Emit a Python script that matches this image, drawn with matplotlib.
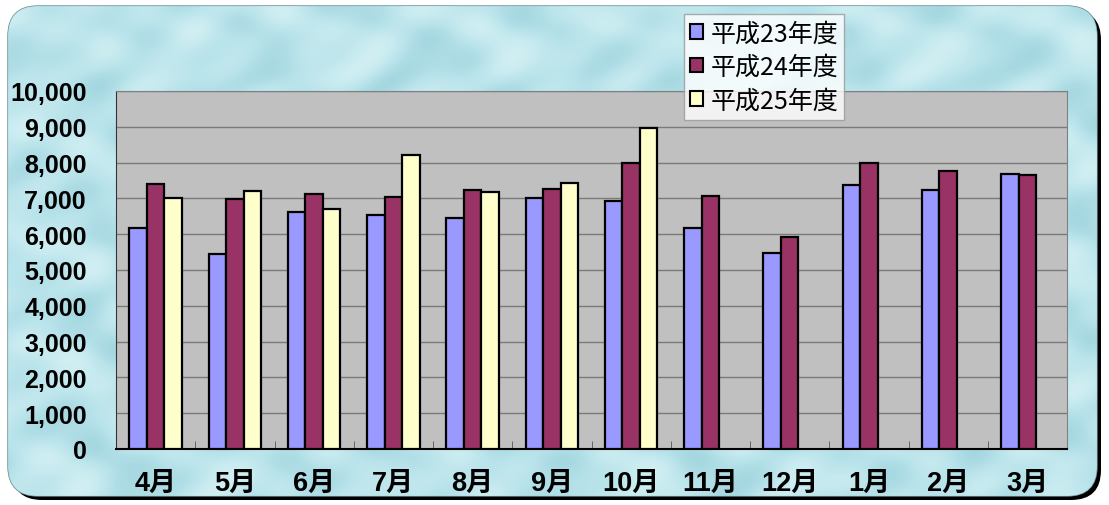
import numpy as np
import matplotlib
matplotlib.use('Agg')
import matplotlib.pyplot as plt
from matplotlib.patches import FancyBboxPatch, Patch
from matplotlib.colors import LinearSegmentedColormap
from matplotlib.ticker import FuncFormatter, MultipleLocator, FixedLocator

plt.rcParams['font.family'] = ['Noto Sans CJK JP', 'DejaVu Sans']

# data
months = ['4月', '5月', '6月', '7月', '8月', '9月', '10月', '11月', '12月', '1月', '2月', '3月']
h23 = [6180, 5440, 6610, 6540, 6450, 7000, 6920, 6180, 5480, 7370, 7240, 7690]
h24 = [7400, 6980, 7120, 7050, 7230, 7250, 7990, 7070, 5920, 7980, 7760, 7650]
h25 = [7000, 7200, 6700, 8200, 7190, 7420, 8980, np.nan, np.nan, np.nan, np.nan, np.nan]
series_names = ['平成23年度', '平成24年度', '平成25年度']
colors = ['#9999ff', '#993366', '#ffffcc']

W, H = 1109, 506
fig = plt.figure(figsize=(W / 100, H / 100), dpi=100)
fig.patch.set_facecolor('white')

# rounded watery background
bg = fig.add_axes([0, 0, 1, 1], zorder=-10)
bg.set_xlim(0, W)
bg.set_ylim(H, 0)
bg.axis('off')
shadow = FancyBboxPatch((12, 11), W - 20, H - 16, boxstyle='round,pad=0,rounding_size=30',
                        fc='black', ec='none')
bg.add_patch(shadow)
box = FancyBboxPatch((8, 7), W - 20, H - 16, boxstyle='round,pad=0,rounding_size=30',
                     fc='#b8e4eb', ec='#6a8a90', lw=1)
bg.add_patch(box)
yy, xx = np.mgrid[0:H, 0:W]
tex = (np.sin(xx / 23.0 + np.cos(yy / 17.0) * 2) + np.sin(yy / 19.0 + np.sin(xx / 31.0) * 2)
       + 0.5 * np.sin((xx + yy) / 11.0))
cmap = LinearSegmentedColormap.from_list('water', ['#a3d6e0', '#bce5ec', '#d4f1f4'])
im = bg.imshow(tex, extent=(0, W, H, 0), cmap=cmap, alpha=0.9, zorder=1, aspect='auto')
im.set_clip_path(box)

ax = fig.add_axes([116 / W, 1 - 450 / H, (1067 - 116) / W, (450 - 92) / H])
ax.set_facecolor('#c0c0c0')
x = np.arange(len(months))
bw = 0.22
for i, (vals, c, name) in enumerate(zip([h23, h24, h25], colors, series_names)):
    ax.bar(x + (i - 1) * bw, vals, bw, color=c, edgecolor='black', linewidth=1.6,
           label=name, zorder=3)

ax.set_xlim(-0.5, len(months) - 0.5)
ax.set_ylim(0, 10000)
ax.yaxis.set_major_locator(MultipleLocator(1000))
ax.yaxis.set_major_formatter(FuncFormatter(lambda v, p: f'{int(v):,}'))
ax.grid(axis='y', color='#7a7a7a', lw=1, zorder=0)
ax.set_axisbelow(True)
ax.set_xticks(x)
ax.set_xticklabels(months)
for lab in ax.get_xticklabels():
    lab.set_fontfamily(['Liberation Sans', 'Noto Sans CJK JP'])
    lab.set_fontweight('bold')
    lab.set_fontsize(19.5)
ax.xaxis.set_minor_locator(FixedLocator(np.arange(0.5, len(months) - 0.5, 1)))
ax.tick_params(axis='x', which='major', length=0, pad=15)
ax.tick_params(axis='x', which='minor', direction='in', length=6, color='#555555')
ax.tick_params(axis='y', length=0, pad=21)
for lab in ax.get_yticklabels():
    lab.set_fontfamily('Liberation Sans')
    lab.set_fontweight('bold')
    lab.set_fontsize(18)
for s in ['top', 'right']:
    ax.spines[s].set_color('#808080')
ax.spines['left'].set_color('#333333')
ax.spines['bottom'].set_color('black')
ax.spines['bottom'].set_linewidth(1.5)

handles = [Patch(fc=c, ec='black', lw=1.5) for c in colors]
leg = fig.legend(handles, series_names, loc='upper left',
                 bbox_to_anchor=(684 / W, 1 - 15 / H), fontsize=18,
                 frameon=True, fancybox=False, handlelength=0.5, handleheight=0.5,
                 handletextpad=0.3, labelspacing=0.3, borderpad=0.25, borderaxespad=0)
leg.get_frame().set_edgecolor('#999999')
leg.get_frame().set_linewidth(1)
leg.set_zorder(20)

fig.savefig('out.png', dpi=100)
